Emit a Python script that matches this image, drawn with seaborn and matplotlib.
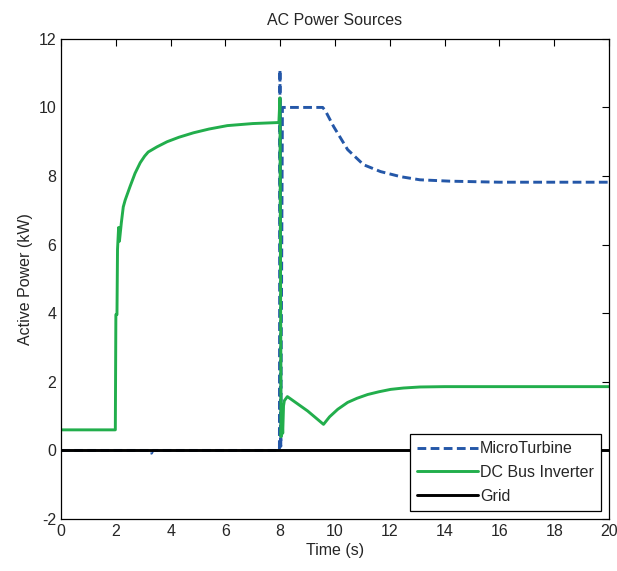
import pandas as pd
import matplotlib
matplotlib.use("Agg")
import matplotlib.pyplot as plt
import seaborn as sns

# values
t_micro = [0, 3.25, 3.3, 3.35, 7.97, 7.99, 8.02, 8.08, 8.2, 9.55, 9.65, 9.95, 10.46, 11.04, 11.66,
           12.4, 13.1, 14.2, 16, 20]
p_micro = [0, 0, -0.08, 0, 0, 11.1, 0.12, 10.0, 10.0, 10.0, 9.9, 9.44, 8.77, 8.33, 8.13,
           7.98, 7.89, 7.85, 7.82, 7.82]

t_dc = [0, 1.98, 2.0, 2.04, 2.06, 2.1, 2.13, 2.2, 2.27, 2.34, 2.52, 2.7, 2.89, 3.05, 3.18, 3.35,
        3.5, 3.87, 4.3, 4.83, 5.4, 6.07, 7.0, 7.95, 7.99, 8.03, 8.06, 8.09, 8.12, 8.15, 8.26,
        9.0, 9.58, 9.8, 10.1, 10.46, 10.8, 11.19, 11.6, 12.03, 12.5, 13.1, 14, 16, 20]
p_dc = [0.6, 0.6, 3.96, 3.96, 5.86, 6.5, 6.1, 6.64, 7.1, 7.3, 7.7, 8.08, 8.39, 8.58, 8.7, 8.78,
        8.85, 9.0, 9.13, 9.26, 9.37, 9.47, 9.53, 9.56, 10.28, 0.4, 1.2, 0.5, 1.3, 1.45, 1.57,
        1.15, 0.76, 0.98, 1.2, 1.4, 1.52, 1.63, 1.71, 1.78, 1.82, 1.85, 1.86, 1.86, 1.86]

t_grid = [0, 20]
p_grid = [0, 0]

series = ["MicroTurbine", "DC Bus Inverter", "Grid"]
colors = ["#2457A8", "#22AE4C", "black"]

df = pd.concat([
    pd.DataFrame({"t": t_micro, "p": p_micro, "s": series[0]}),
    pd.DataFrame({"t": t_dc, "p": p_dc, "s": series[1]}),
    pd.DataFrame({"t": t_grid, "p": p_grid, "s": series[2]}),
], ignore_index=True)

sns.set_style("white")
plt.rcParams["font.family"] = ["Liberation Sans", "DejaVu Sans"]
plt.rcParams["axes.unicode_minus"] = False

fig = plt.figure(figsize=(6.17, 5.71), dpi=100)
ax = fig.add_axes([0.099, 0.091, 0.888, 0.841])

sns.lineplot(data=df, x="t", y="p", hue="s", style="s", palette=colors,
             dashes=[(3.0, 1.5), "", ""], estimator=None, sort=False,
             linewidth=2.1, ax=ax)

ax.set_xlim(0, 20)
ax.set_ylim(-2, 12)
ax.set_xticks(range(0, 21, 2))
ax.set_yticks(range(-2, 13, 2))
ax.tick_params(direction="in", top=True, right=True, length=5, width=0.8,
               labelsize=11.5, color="black")
for sp in ax.spines.values():
    sp.set_color("black")
    sp.set_linewidth(0.9)

ax.set_title("AC Power Sources", fontsize=11.5, pad=10)
ax.set_xlabel("Time (s)", fontsize=11.5, labelpad=3)
ax.set_ylabel("Active Power (kW)", fontsize=11.5)

leg = ax.legend(loc="lower right", fontsize=11.5, frameon=True, fancybox=False,
                edgecolor="black", framealpha=1, handlelength=3.8, borderaxespad=0.5,
                borderpad=0.45, labelspacing=0.55, handletextpad=0.15)
leg.get_frame().set_linewidth(0.9)

fig.savefig("out.png", dpi=100)
